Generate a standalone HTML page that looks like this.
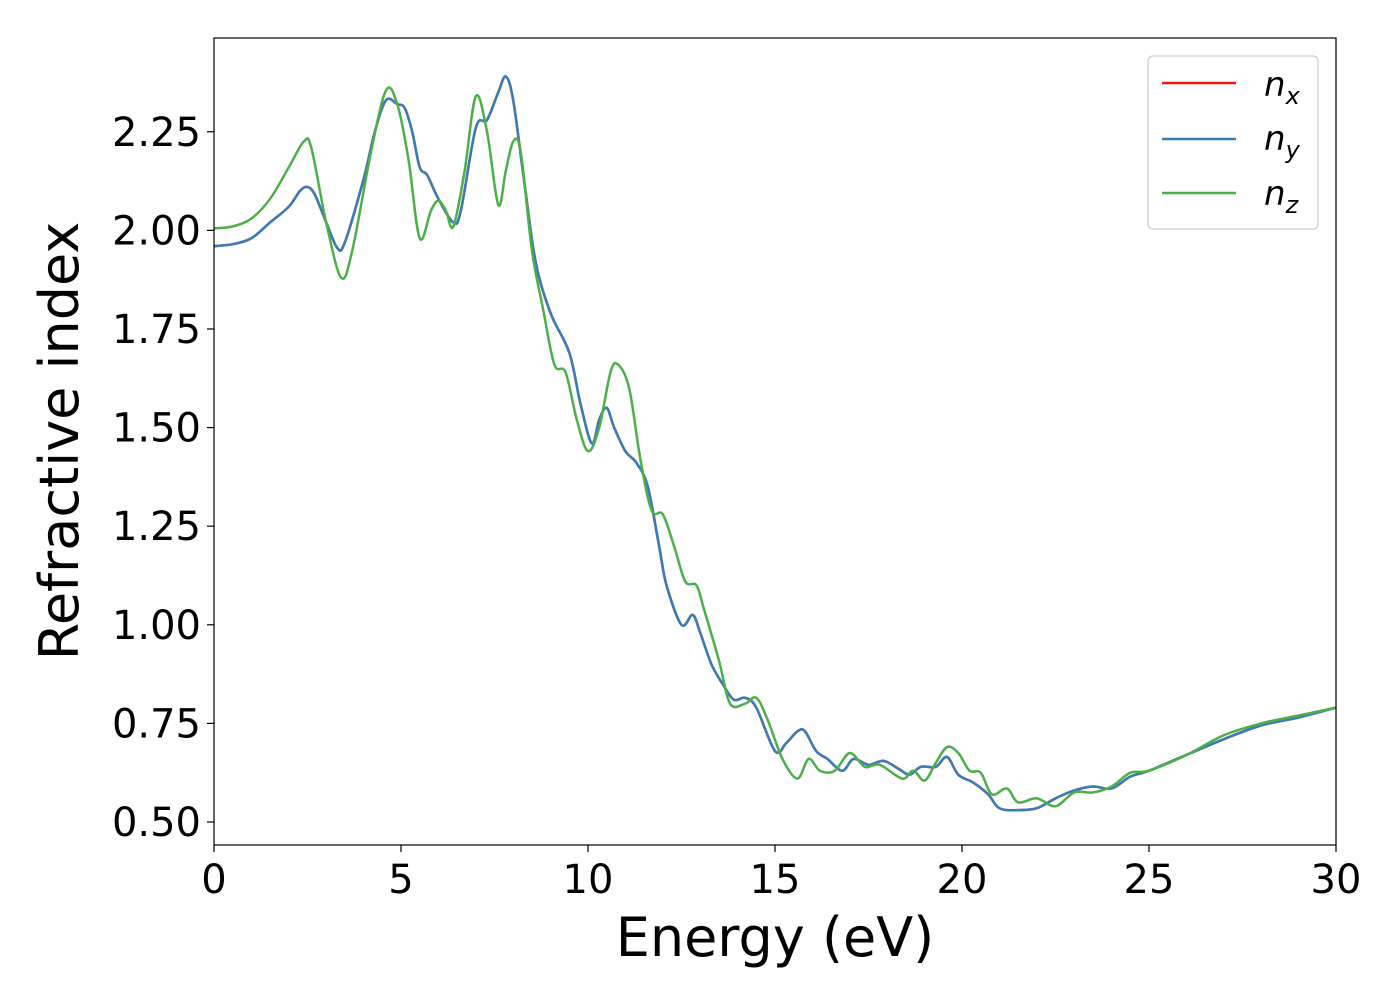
<!DOCTYPE html>
<html><head><meta charset="utf-8"><style>
body{margin:0;background:#fff;}
svg text{font-family:"DejaVu Sans","Liberation Sans",sans-serif;fill:#000;}
</style></head><body>
<svg id="chart" width="1400" height="1000" viewBox="0 0 1400 1000" xmlns="http://www.w3.org/2000/svg">
<g id="series"></g>
<rect x="214" y="38" width="1122" height="807" fill="none" stroke="#000" stroke-width="1.2"/>
<g id="xticks"></g>
<g id="yticks"></g>
<text x="775" y="956" font-size="54" text-anchor="middle">Energy (eV)</text>
<text transform="translate(78,441) rotate(-90)" font-size="54" text-anchor="middle">Refractive index</text>
<g>
<rect x="1148" y="56" width="170" height="173" rx="5" fill="#fff" stroke="#ccc" stroke-width="1.2"/>
<line x1="1162" y1="83" x2="1236" y2="83" stroke="#e41a1c" stroke-width="2.5"/>
<text x="1264" y="96" font-size="34" font-style="italic">n<tspan font-size="24" dy="8">x</tspan></text>
<line x1="1162" y1="139" x2="1236" y2="139" stroke="#377eb8" stroke-width="2.5"/>
<text x="1264" y="150" font-size="34" font-style="italic">n<tspan font-size="24" dy="8">y</tspan></text>
<line x1="1162" y1="193" x2="1236" y2="193" stroke="#4daf4a" stroke-width="2.5"/>
<text x="1264" y="205" font-size="34" font-style="italic">n<tspan font-size="24" dy="8">z</tspan></text>
</g>
</svg>
<script>
const xTicks=[0,5,10,15,20,25,30];
const yTicks=[0.5,0.75,1.0,1.25,1.5,1.75,2.0,2.25];
const yTickLabels=["0.50","0.75","1.00","1.25","1.50","1.75","2.00","2.25"];
const energyXY=[0,0.5,1,1.5,2,2.3,2.5,2.7,3,3.3,3.5,4,4.3,4.6,4.9,5.1,5.3,5.5,5.7,6,6.4,6.6,7,7.3,7.6,7.8,8,8.3,8.6,9,9.5,9.8,10.1,10.3,10.5,10.7,11,11.3,11.6,11.9,12.1,12.5,12.8,13,13.3,13.6,13.9,14.2,14.5,15,15.3,15.6,15.8,16.1,16.4,16.8,17.1,17.5,17.9,18.3,18.6,18.9,19.3,19.6,19.9,20.3,20.7,21,21.5,22,22.5,23,23.5,24,24.5,25,26,27,28,29,30];
const nxValues=[1.96,1.965,1.98,2.02,2.06,2.10,2.11,2.09,2.02,1.955,1.97,2.13,2.25,2.33,2.32,2.31,2.25,2.16,2.14,2.08,2.02,2.05,2.26,2.28,2.35,2.39,2.33,2.12,1.92,1.79,1.69,1.56,1.46,1.52,1.55,1.50,1.44,1.41,1.35,1.20,1.10,1.00,1.025,0.98,0.90,0.85,0.81,0.815,0.79,0.68,0.70,0.73,0.73,0.68,0.66,0.63,0.66,0.645,0.655,0.635,0.62,0.64,0.64,0.665,0.62,0.60,0.57,0.535,0.53,0.535,0.56,0.58,0.59,0.585,0.615,0.63,0.67,0.71,0.745,0.765,0.79];
const nyValues=nxValues.slice();
const energyZ=[0,0.5,1,1.5,2,2.4,2.6,3,3.4,3.7,4.2,4.6,4.9,5.2,5.5,5.8,6,6.2,6.4,6.7,7,7.3,7.6,7.8,8,8.2,8.5,8.8,9.1,9.4,9.7,10,10.3,10.6,10.8,11.1,11.4,11.7,12,12.3,12.6,12.9,13.1,13.5,13.8,14.2,14.5,14.8,15.2,15.6,15.9,16.2,16.6,17,17.4,17.8,18.4,18.7,19,19.3,19.6,19.9,20.2,20.5,20.8,21.2,21.5,22,22.5,23,23.5,24,24.5,25,26,27,28,29,30];
const nzValues=[2.005,2.01,2.03,2.08,2.16,2.225,2.21,2.02,1.88,1.95,2.2,2.355,2.32,2.18,1.98,2.05,2.075,2.05,2.01,2.15,2.34,2.25,2.065,2.15,2.225,2.2,1.95,1.80,1.66,1.64,1.52,1.44,1.50,1.64,1.66,1.60,1.42,1.29,1.28,1.20,1.11,1.10,1.04,0.91,0.80,0.80,0.815,0.76,0.66,0.61,0.66,0.63,0.63,0.675,0.64,0.645,0.61,0.63,0.605,0.65,0.69,0.675,0.63,0.625,0.57,0.585,0.55,0.56,0.54,0.575,0.575,0.59,0.625,0.63,0.67,0.72,0.75,0.77,0.79];

const X0=214,X1=1336,xmin=0,xmax=30;
const Ytop=38,Ybot=845,ymin=0.4417,ymax=2.4877;
const xs=v=>X0+(v-xmin)/(xmax-xmin)*(X1-X0);
const ys=v=>Ybot-(v-ymin)/(ymax-ymin)*(Ybot-Ytop);
const NS="http://www.w3.org/2000/svg";
function mk(t,a,p){const e=document.createElementNS(NS,t);for(const k in a)e.setAttribute(k,a[k]);p.appendChild(e);return e;}
function pathD(xa,ya){const p=xa.map((x,i)=>[xs(x),ys(ya[i])]);let d="M"+p[0][0]+","+p[0][1];
for(let i=0;i<p.length-1;i++){const a=p[Math.max(0,i-1)],b=p[i],c=p[i+1],e=p[Math.min(p.length-1,i+2)];
d+=" C"+(b[0]+(c[0]-a[0])/6)+","+(b[1]+(c[1]-a[1])/6)+" "+(c[0]-(e[0]-b[0])/6)+","+(c[1]-(e[1]-b[1])/6)+" "+c[0]+","+c[1];}return d;}
const sg=document.getElementById('series');
const pr=mk('path',{d:pathD(energyXY,nxValues),fill:'none',stroke:'#e41a1c','stroke-width':2.5},sg);


const pb=mk('path',{d:pathD(energyXY,nyValues),fill:'none',stroke:'#377eb8','stroke-width':2.5},sg);


const pg=mk('path',{d:pathD(energyZ,nzValues),fill:'none',stroke:'#4daf4a','stroke-width':2.5},sg);


const xg=document.getElementById('xticks');
xTicks.forEach(v=>{const x=xs(v);
const l=mk('line',{x1:x,y1:845,x2:x,y2:852,stroke:'#000','stroke-width':1.2},xg);


const t=mk('text',{x:x,y:893,'font-size':40,'text-anchor':'middle'},xg);t.textContent=v;

});
const yg=document.getElementById('yticks');
yTicks.forEach((v,i)=>{const y=ys(v);
const l=mk('line',{x1:207,y1:y,x2:214,y2:y,stroke:'#000','stroke-width':1.2},yg);


const t=mk('text',{x:201,y:y+14,'font-size':40,'text-anchor':'end'},yg);t.textContent=yTickLabels[i];

});
</script>
</body></html>
